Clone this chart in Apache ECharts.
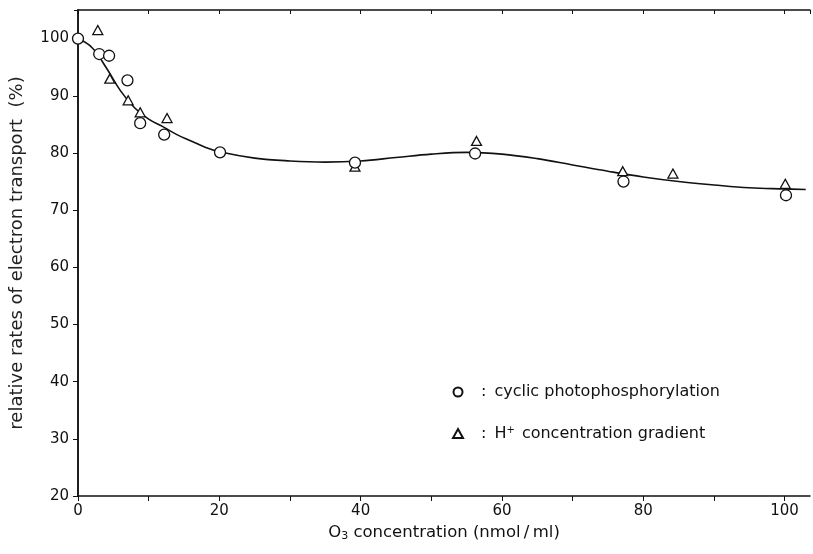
<!DOCTYPE html>
<html>
<head>
<meta charset="utf-8">
<script src="https://cdn.jsdelivr.net/npm/echarts@6/dist/echarts.min.js"></script>
<style>
  html, body { margin: 0; padding: 0; background: #fff; }
  #chart { width: 813px; height: 554px; }
</style>
</head>
<body>
<div id="chart"></div>
<script>
// measured points: cyclic photophosphorylation (circles)
const cyclicX = [0, 3.0, 4.4, 7.0, 8.8, 12.2, 20.1, 39.2, 56.2, 77.2, 100.2];
const cyclicY = [100, 97.3, 97.0, 92.7, 85.2, 83.2, 80.1, 78.3, 79.9, 75.0, 72.6];

// measured points: H+ concentration gradient (triangles)
const protonX = [2.8, 4.5, 7.1, 8.8, 12.6, 39.2, 56.4, 77.1, 84.2, 100.1];
const protonY = [101.5, 93.0, 89.2, 87.1, 86.1, 77.6, 82.1, 76.8, 76.4, 74.6];

// hand-drawn fitted curve
const curveX = [0, 2, 4, 6, 8, 10, 12, 14, 16, 18, 20, 25, 30, 35, 40, 45, 50, 55, 60, 65, 70, 75, 80, 85, 90, 95, 100, 103];
const curveY = [100, 98.4, 94.9, 90.9, 87.9, 85.9, 84.6, 83.2, 82.1, 81.0, 80.2, 79.1, 78.6, 78.4, 78.6, 79.2, 79.8, 80.1, 79.8, 79.0, 77.9, 76.8, 75.8, 75.0, 74.4, 73.9, 73.7, 73.6];

const zip = (xs, ys) => xs.map((x, i) => [x, ys[i]]);

const ink = '#111';
const font = '"DejaVu Sans", "Liberation Sans", sans-serif';

const chart = echarts.init(document.getElementById('chart'));

chart.setOption({
  animation: false,
  backgroundColor: '#fff',
  grid: { left: 78, right: 3, top: 10, bottom: 58 },
  legend: {
    orient: 'vertical',
    left: 447,
    top: 379,
    itemGap: 25,
    itemWidth: 10,
    itemHeight: 9,
    data: [
      { name: 'cyclic photophosphorylation', icon: 'circle' },
      { name: 'H+ concentration gradient', icon: 'triangle' }
    ],
    formatter: name => name === 'H+ concentration gradient'
      ? '{c|:}H{sup|+} concentration gradient'
      : '{c|:}cyclic photophosphorylation',
    textStyle: {
      color: ink,
      fontFamily: font,
      fontSize: 16,
      rich: {
        c: { fontSize: 16, fontFamily: font, color: ink, padding: [0, 8, 0, 13] },
        sup: { fontSize: 10, fontFamily: font, color: ink, verticalAlign: 'top', padding: [0, 2, 7, 0] }
      }
    }
  },
  xAxis: [{
    type: 'value',
    min: 0,
    max: 103.6,
    interval: 10,
    name: '{b|O}{s|3}{b| concentration (nmol\u2009\u2215\u2009ml)}',
    nameLocation: 'middle',
    nameGap: 28,
    nameTextStyle: {
      rich: {
        b: { fontSize: 16.5, fontFamily: font, color: ink },
        s: { fontSize: 11, fontFamily: font, color: ink, verticalAlign: 'bottom', padding: [7, 0, 0, 0] }
      }
    },
    axisLine: { lineStyle: { color: ink, width: 1.5 } },
    axisTick: { inside: false, length: 5, lineStyle: { color: ink } },
    axisLabel: {
      color: ink, fontSize: 15, fontFamily: font, margin: 8,
      showMaxLabel: false,
      formatter: v => (v % 20 === 0 ? String(v) : '')
    },
    splitLine: { show: false }
  }, {
    type: 'value',
    position: 'top',
    min: 0,
    max: 103.6,
    interval: 10,
    axisLine: { show: true, lineStyle: { color: ink, width: 1.5 } },
    axisTick: { inside: true, length: 4, lineStyle: { color: ink } },
    axisLabel: { show: false },
    splitLine: { show: false }
  }],
  yAxis: [{
    type: 'value',
    min: 20,
    max: 105,
    interval: 10,
    name: 'relative rates of electron transport  (%)',
    nameLocation: 'middle',
    nameGap: 52,
    nameTextStyle: { fontSize: 18, fontFamily: font, color: '#222' },
    axisLine: { lineStyle: { color: ink, width: 1.5 } },
    axisTick: { inside: false, length: 5, lineStyle: { color: ink } },
    axisLabel: {
      color: ink, fontSize: 15, fontFamily: font, margin: 9,
      showMaxLabel: false,
      formatter: v => (v % 10 === 0 ? String(v) : '')
    },
    splitLine: { show: false }
  }, {
    type: 'value',
    position: 'right',
    min: 20,
    max: 105,
    interval: 10,
    axisLine: { show: true, lineStyle: { color: ink, width: 1.5 } },
    axisTick: { inside: true, length: 4, lineStyle: { color: ink } },
    axisLabel: { show: false },
    splitLine: { show: false }
  }],
  series: [{
    name: 'curve',
    type: 'line',
    data: zip(curveX, curveY),
    smooth: 0.4,
    showSymbol: false,
    silent: true,
    z: 1,
    lineStyle: { color: ink, width: 1.6 }
  }, {
    name: 'cyclic photophosphorylation',
    type: 'scatter',
    data: zip(cyclicX, cyclicY),
    symbol: 'circle',
    symbolSize: 11,
    z: 3,
    itemStyle: { color: '#fff', borderColor: ink, borderWidth: 1.3, opacity: 1 }
  }, {
    name: 'H+ concentration gradient',
    type: 'scatter',
    data: zip(protonX, protonY),
    symbol: 'triangle',
    symbolSize: [10, 9],
    z: 2,
    itemStyle: { color: '#fff', borderColor: ink, borderWidth: 1.3, opacity: 1 }
  }]
});
</script>
</body>
</html>
